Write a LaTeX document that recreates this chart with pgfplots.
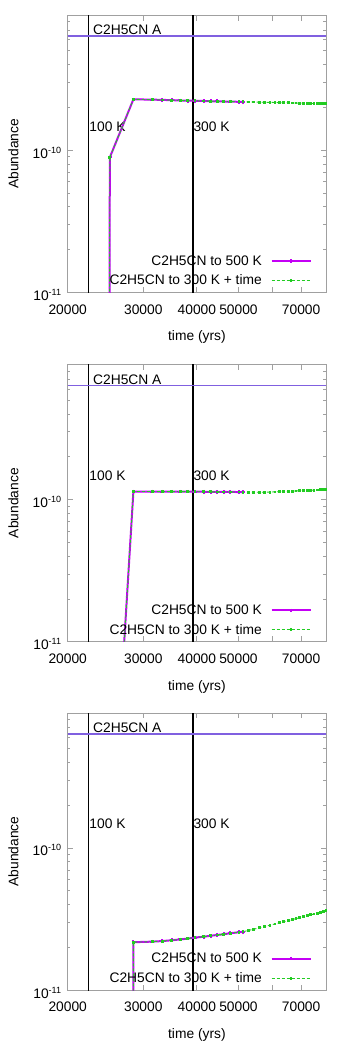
\documentclass[border=0pt]{standalone}
\usepackage{fontspec}
\setmainfont{Liberation Sans}
\usepackage{pgfplots}
\pgfplotsset{compat=1.18}

\definecolor{magline}{HTML}{C400F5}
\definecolor{grnline}{HTML}{22CC22}
\definecolor{refline}{HTML}{8060E0}
\definecolor{framegray}{HTML}{A0A0A0}

\newcommand{\expo}[1]{\raisebox{5pt}{\fontsize{9}{10}\selectfont #1}}

\tikzset{
  vline/.style={black, line width=1.2pt},
  hline/.style={refline, line width=1.3pt},
  lab/.style={anchor=west, inner sep=0pt},
  s500/.style={magline, line width=2pt, mark=+, mark size=1.8pt},
  s300/.style={grnline, line width=0.9pt, dash pattern=on 3pt off 2pt, mark=square*, mark size=0.9pt, mark options={solid}},
}

\pgfplotsset{
  every axis/.append style={
    scale only axis, width=258.3pt, height=277pt,
    xmin=20000, xmax=80000, ymin=1e-11, ymax=8.9e-10,
    xtick={20000,30000,40000,50000,60000,70000},
    xticklabels={20000,30000,40000,50000,,70000},
    ytick={1e-11,1e-10},
    yticklabels={10\expo{-11},10\expo{-10}},
    minor ytick={2e-11,3e-11,4e-11,5e-11,6e-11,7e-11,8e-11,9e-11,2e-10,3e-10,4e-10,5e-10,6e-10,7e-10,8e-10},
    tick align=inside,
    major tick length=5.3pt, minor tick length=2.7pt,
    tick style={framegray, line width=0.8pt},
    axis line style={framegray, line width=0.8pt},
    xticklabel style={yshift=-8.8pt},
    yticklabel style={xshift=-3.1pt, yshift=-2.5pt},
    xlabel={time (yrs)}, ylabel={Abundance},
    x label style={at={(axis description cs:0.5,-0.1625)}, anchor=center},
    y label style={at={(axis description cs:-0.2106,0.5)}, anchor=center},
    legend plot pos=right,
    legend cell align=right,
    legend style={draw=none, fill=none, inner sep=0pt,
      at={(1,0)}, anchor=south east,
      xshift=-14.3pt, yshift=6pt,
      nodes={inner sep=0pt},
      column sep=8.7pt, row sep=8.1pt},
  },
  legend image code/.code={\draw[mark repeat=2,mark phase=2,#1] plot coordinates {(0pt,0pt) (19.5pt,0pt) (39pt,0pt)};},
}

\begin{document}
\begin{tikzpicture}[font=\fontsize{13.8}{16}\selectfont]
\useasboundingbox (0,0) rectangle (349pt,1047pt);

% ---------- panel 1
\begin{loglogaxis}[at={(67.7pt,754.7pt)}, anchor=south west]
\addplot[vline, forget plot] coordinates {(22400,1e-12) (22400,1e-8)};
\addplot[vline, forget plot] coordinates {(39200,1e-12) (39200,1e-8)};
\addplot[hline, forget plot] coordinates {(20000,6.35e-10) (80000,6.35e-10)};
\node[anchor=base west, inner sep=0pt, yshift=1.5pt] at (axis cs:22900,6.35e-10) {C2H5CN A};
\node[lab] at (axis cs:22450,1.47e-10) {100 K};
\node[lab] at (axis cs:39250,1.47e-10) {300 K};
\addplot[s500] coordinates {
 (24950,1e-13) (25070,8.9e-11) (28450,2.28e-10) (31470,2.27e-10) (33200,2.26e-10)
 (34940,2.25e-10) (36600,2.24e-10) (38070,2.23e-10) (39610,2.23e-10) (41470,2.22e-10)
 (43070,2.21e-10) (44630,2.21e-10) (46150,2.20e-10) (47840,2.20e-10) (50130,2.19e-10)
 (51200,2.19e-10)};
\addlegendentry{C2H5CN to 500 K}
\addplot[s300] coordinates {
 (24950,1e-13) (25070,8.9e-11) (28450,2.28e-10) (31470,2.27e-10) (33200,2.26e-10)
 (34940,2.25e-10) (36600,2.24e-10) (38070,2.23e-10) (39610,2.23e-10) (41470,2.22e-10)
 (43070,2.21e-10) (44630,2.21e-10) (46150,2.20e-10) (47840,2.20e-10) (50130,2.19e-10)
 (51200,2.19e-10) (52700,2.186e-10) (54300,2.183e-10) (56000,2.178e-10) (57600,2.175e-10)
 (59200,2.171e-10) (60800,2.167e-10) (62300,2.163e-10) (63800,2.160e-10) (65300,2.156e-10)
 (66700,2.152e-10) (68100,2.149e-10) (69500,2.145e-10) (70900,2.142e-10) (72300,2.138e-10)
 (73700,2.135e-10) (75000,2.132e-10) (76300,2.128e-10) (77600,2.125e-10) (78900,2.122e-10)
 (80000,2.120e-10)};
\addlegendentry{C2H5CN to 300 K + time}
\end{loglogaxis}

% ---------- panel 2
\begin{loglogaxis}[at={(67.7pt,405.3pt)}, anchor=south west]
\addplot[vline, forget plot] coordinates {(22400,1e-12) (22400,1e-8)};
\addplot[vline, forget plot] coordinates {(39200,1e-12) (39200,1e-8)};
\addplot[hline, forget plot] coordinates {(20000,6.35e-10) (80000,6.35e-10)};
\node[anchor=base west, inner sep=0pt, yshift=1.5pt] at (axis cs:22900,6.35e-10) {C2H5CN A};
\node[lab] at (axis cs:22450,1.47e-10) {100 K};
\node[lab] at (axis cs:39250,1.47e-10) {300 K};
\addplot[s500] coordinates {
 (25070,2.2e-13) (28450,1.140e-10) (31470,1.140e-10) (33200,1.139e-10) (34940,1.139e-10)
 (36600,1.138e-10) (38070,1.138e-10) (39610,1.137e-10) (41470,1.136e-10) (43070,1.135e-10)
 (44630,1.134e-10) (46150,1.133e-10) (47840,1.132e-10) (50130,1.131e-10) (51200,1.130e-10)};
\addlegendentry{C2H5CN to 500 K}
\addplot[s300] coordinates {
 (25070,2.2e-13) (28450,1.140e-10) (31470,1.140e-10) (33200,1.139e-10) (34940,1.139e-10)
 (36600,1.138e-10) (38070,1.138e-10) (39610,1.137e-10) (41470,1.136e-10) (43070,1.135e-10)
 (44630,1.134e-10) (46150,1.133e-10) (47840,1.132e-10) (50130,1.131e-10) (51200,1.130e-10)
 (52700,1.128e-10) (54300,1.126e-10) (56000,1.126e-10) (57600,1.128e-10) (59200,1.130e-10)
 (60800,1.134e-10) (62300,1.138e-10) (63800,1.141e-10) (65300,1.145e-10) (66700,1.148e-10)
 (68100,1.151e-10) (69500,1.154e-10) (70900,1.157e-10) (72300,1.160e-10) (73700,1.163e-10)
 (75000,1.166e-10) (76300,1.169e-10) (77600,1.172e-10) (78900,1.175e-10) (80000,1.178e-10)};
\addlegendentry{C2H5CN to 300 K + time}
\end{loglogaxis}

% ---------- panel 3
\begin{loglogaxis}[at={(67.7pt,57pt)}, anchor=south west]
\addplot[vline, forget plot] coordinates {(22400,1e-12) (22400,1e-8)};
\addplot[vline, forget plot] coordinates {(39200,1e-12) (39200,1e-8)};
\addplot[hline, forget plot] coordinates {(20000,6.35e-10) (80000,6.35e-10)};
\node[anchor=base west, inner sep=0pt, yshift=1.5pt] at (axis cs:22900,6.35e-10) {C2H5CN A};
\node[lab] at (axis cs:22450,1.47e-10) {100 K};
\node[lab] at (axis cs:39250,1.47e-10) {300 K};
\addplot[s500] coordinates {
 (28300,1e-14) (28450,2.17e-11) (31470,2.19e-11) (33200,2.21e-11) (34940,2.24e-11)
 (36600,2.27e-11) (38070,2.30e-11) (39610,2.34e-11) (41470,2.37e-11) (43070,2.41e-11)
 (44630,2.44e-11) (46150,2.47e-11) (47840,2.51e-11) (50130,2.55e-11) (51200,2.57e-11)};
\addlegendentry{C2H5CN to 500 K}
\addplot[s300] coordinates {
 (28300,1e-14) (28450,2.17e-11) (31470,2.19e-11) (33200,2.21e-11) (34940,2.24e-11)
 (36600,2.27e-11) (38070,2.30e-11) (39610,2.34e-11) (41470,2.37e-11) (43070,2.41e-11)
 (44630,2.44e-11) (46150,2.47e-11) (47840,2.51e-11) (50130,2.55e-11) (51200,2.57e-11)
 (52700,2.624e-11) (54300,2.682e-11) (56000,2.743e-11) (57600,2.801e-11) (59200,2.859e-11)
 (60800,2.917e-11) (62300,2.971e-11) (63800,3.025e-11) (65300,3.079e-11) (66700,3.130e-11)
 (68100,3.180e-11) (69500,3.231e-11) (70900,3.281e-11) (72300,3.332e-11) (73700,3.382e-11)
 (75000,3.429e-11) (76300,3.476e-11) (77600,3.523e-11) (78900,3.570e-11) (80000,3.610e-11)};
\addlegendentry{C2H5CN to 300 K + time}
\end{loglogaxis}
\end{tikzpicture}
\end{document}
